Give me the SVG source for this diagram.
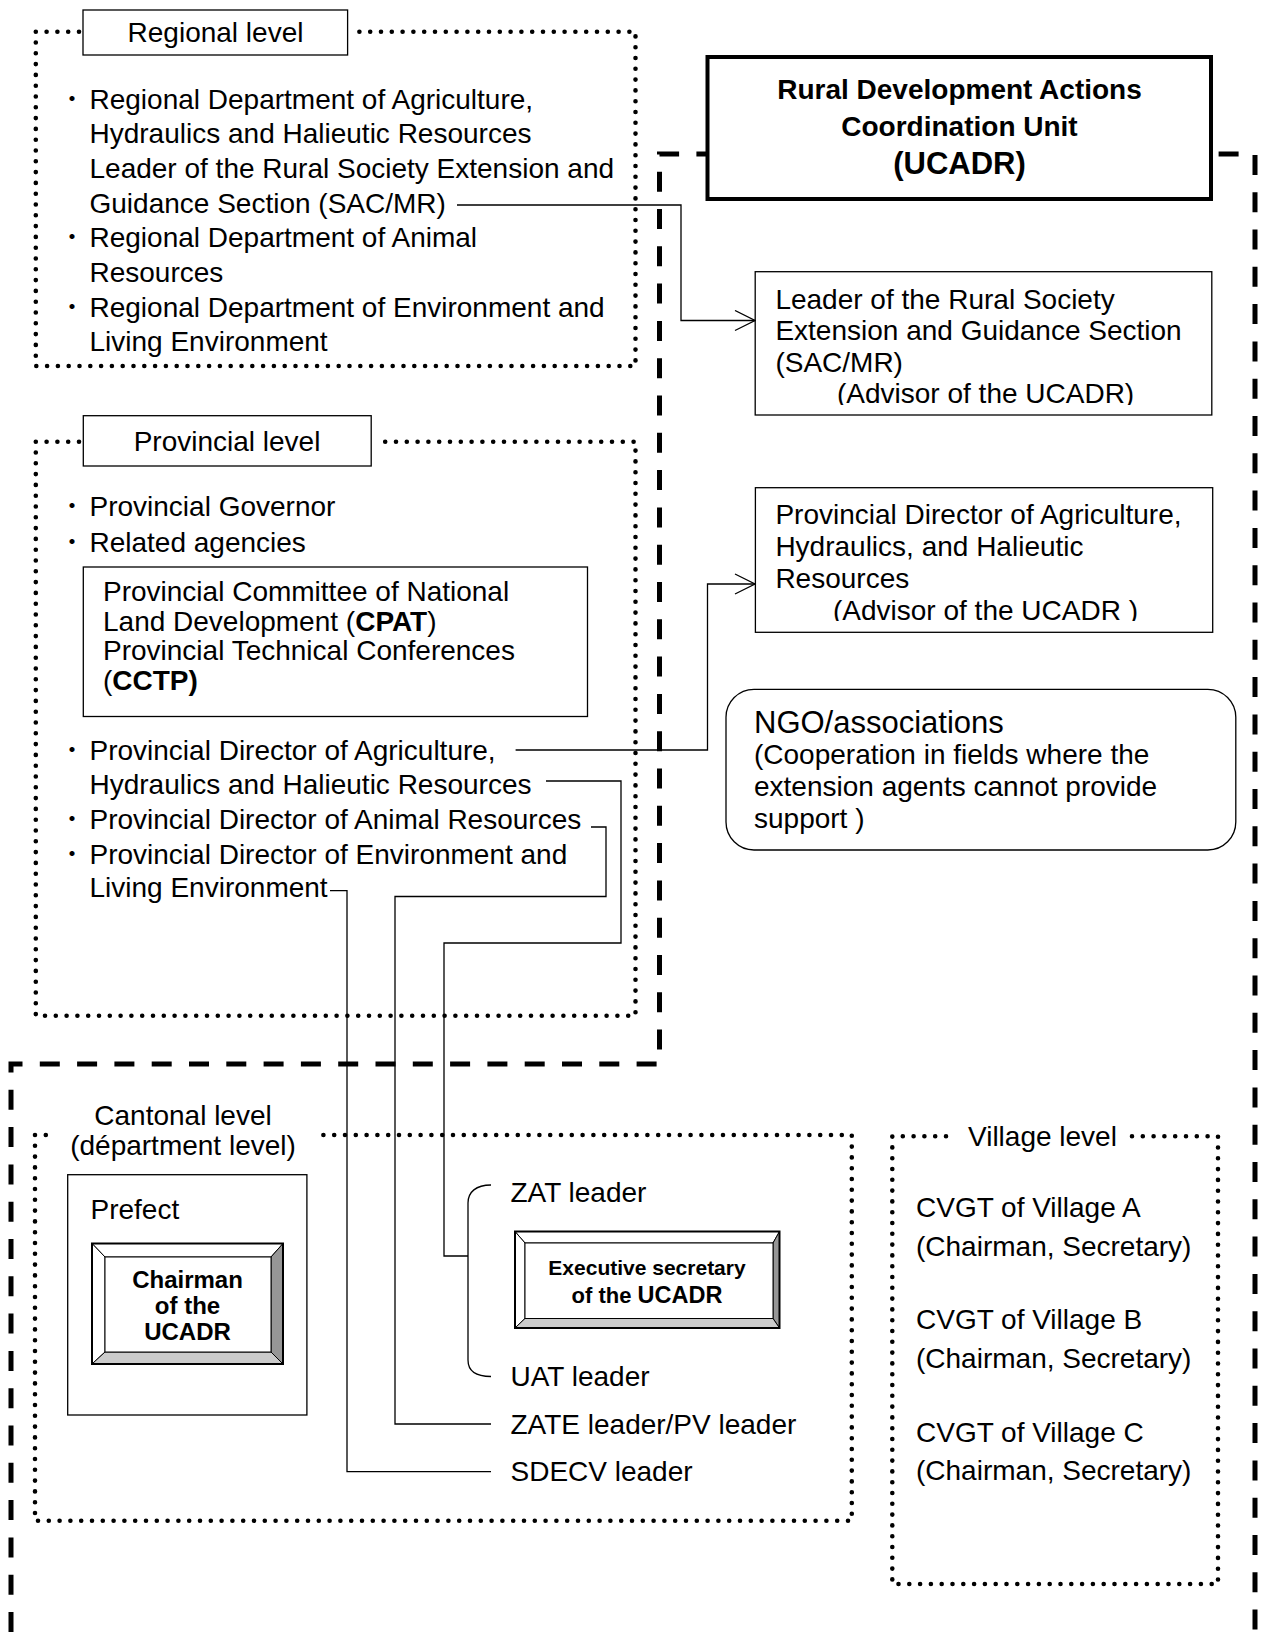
<svg xmlns="http://www.w3.org/2000/svg" width="1262" height="1632" viewBox="0 0 1262 1632">
  <style>
    .t { font-family: "Liberation Sans", Arial, sans-serif; font-size: 28px; fill: #000; }
    .b { font-weight: bold; }
    .bul { font-family: "Noto Sans CJK JP", "Liberation Sans", sans-serif; font-size: 24px; fill: #000; text-anchor: middle; }
    .mid { text-anchor: middle; }
    .box { fill: #fff; stroke: #000; stroke-width: 1.3; }
    .dot { fill: none; stroke: #000; stroke-width: 4.6; stroke-linecap: round; stroke-dasharray: 0 10.8; }
    .dash { fill: none; stroke: #000; stroke-width: 5; stroke-dasharray: 20 17.3; }
    .link { fill: none; stroke: #000; stroke-width: 1.3; }
    .bev { stroke: #000; stroke-width: 1; stroke-linejoin: miter; }
  </style>
  <defs>
    <marker id="openArrow" viewBox="0 0 22 22" refX="21" refY="11" markerWidth="22" markerHeight="22" markerUnits="userSpaceOnUse" orient="auto">
      <path d="M1,1 L21,11 L1,21" fill="none" stroke="#000" stroke-width="1.3"/>
    </marker>
    <clipPath id="clipAdv1"><rect x="755" y="272" width="457" height="133"/></clipPath>
    <clipPath id="clipAdv2"><rect x="755" y="488" width="457" height="133"/></clipPath>
  </defs>

  <rect width="1262" height="1632" fill="#fff"/>

  <!-- outer dashed frame of the coordination unit -->
  <g id="ucadr-frame">
    <path class="dash" d="M11,1632 V1064 H659.5 V154 H1255 V1632"/>
  </g>

  <!-- level boundaries (dotted) -->
  <g id="levels">
    <path class="dot" d="M79,31.7 H35.8 V366 H635.5 V31.7 H351"/>
    <path class="dot" d="M79,441.7 H35.8 V1015.7 H635.5 V441.7 H375"/>
    <path class="dot" d="M45.8,1135 H35 V1520.8 H851.8 V1135 H313.5"/>
    <path class="dot" d="M946,1136.3 H892.3 V1584 H1218 V1136.3 H1131"/>
  </g>

  <!-- Regional level -->
  <g id="regional">
    <rect class="box" x="83" y="10" width="264.6" height="45"/>
    <text class="t mid" x="215.5" y="42">Regional level</text>
    <text class="bul" x="72" y="106.5">・</text>
    <text class="t" x="89.5" y="108.5">Regional Department of Agriculture,</text>
    <text class="t" x="89.5" y="143.2">Hydraulics and Halieutic Resources</text>
    <text class="t" x="89.5" y="177.9">Leader of the Rural Society Extension and</text>
    <text class="t" x="89.5" y="212.6">Guidance Section (SAC/MR)</text>
    <text class="bul" x="72" y="245.3">・</text>
    <text class="t" x="89.5" y="247.3">Regional Department of Animal</text>
    <text class="t" x="89.5" y="282">Resources</text>
    <text class="bul" x="72" y="314.7">・</text>
    <text class="t" x="89.5" y="316.7">Regional Department of Environment and</text>
    <text class="t" x="89.5" y="351.4">Living Environment</text>
  </g>

  <!-- Provincial level -->
  <g id="provincial">
    <rect class="box" x="83.3" y="415.7" width="287.9" height="50.3"/>
    <text class="t mid" x="227" y="450.5">Provincial level</text>
    <text class="bul" x="72" y="514">・</text>
    <text class="t" x="89.5" y="516">Provincial Governor</text>
    <text class="bul" x="72" y="549.5">・</text>
    <text class="t" x="89.5" y="551.5">Related agencies</text>
    <text class="bul" x="72" y="758">・</text>
    <text class="t" x="89.5" y="760">Provincial Director of Agriculture,</text>
    <text class="t" x="89.5" y="793.5">Hydraulics and Halieutic Resources</text>
    <text class="bul" x="72" y="826.5">・</text>
    <text class="t" x="89.5" y="828.5">Provincial Director of Animal Resources</text>
    <text class="bul" x="72" y="861.5">・</text>
    <text class="t" x="89.5" y="863.5">Provincial Director of Environment and</text>
    <text class="t" x="89.5" y="897">Living Environment</text>
  </g>

  <g id="cpat-cctp">
    <rect class="box" x="83.3" y="567" width="504.2" height="149.5"/>
    <text class="t" x="103" y="601">Provincial Committee of National</text>
    <text class="t" x="103" y="631">Land Development (<tspan class="b">CPAT</tspan>)</text>
    <text class="t" x="103" y="660.3">Provincial Technical Conferences</text>
    <text class="t" x="103" y="690.3">(<tspan class="b">CCTP)</tspan></text>
  </g>

  <!-- Coordination unit -->
  <g id="ucadr">
    <rect x="707.5" y="57" width="503.5" height="142" fill="#fff" stroke="#000" stroke-width="4"/>
    <text class="t b mid" x="959.5" y="98.5">Rural Development Actions</text>
    <text class="t b mid" x="959.5" y="136">Coordination Unit</text>
    <text class="t b mid" x="959.5" y="174" style="font-size:31px">(UCADR)</text>
  </g>

  <g id="advisor-sacmr">
    <rect class="box" x="755.2" y="271.7" width="456.6" height="143.3"/>
    <g clip-path="url(#clipAdv1)">
      <text class="t" x="775.4" y="308.5">Leader of the Rural Society</text>
      <text class="t" x="775.4" y="340">Extension and Guidance Section</text>
      <text class="t" x="775.4" y="371.7">(SAC/MR)</text>
      <text class="t" x="837" y="403.4">(Advisor of the UCADR)</text>
    </g>
  </g>

  <g id="advisor-dpaahrh">
    <rect class="box" x="755.4" y="487.7" width="457.3" height="144.6"/>
    <g clip-path="url(#clipAdv2)">
      <text class="t" x="775.4" y="523.5">Provincial Director of Agriculture,</text>
      <text class="t" x="775.4" y="555.5">Hydraulics, and Halieutic</text>
      <text class="t" x="775.4" y="587.5">Resources</text>
      <text class="t" x="833" y="619.5">(Advisor of the UCADR )</text>
    </g>
  </g>

  <g id="ngo">
    <rect class="box" x="726" y="689.3" width="509.8" height="160.7" rx="28" ry="28"/>
    <text class="t" x="754" y="732.5" style="font-size:31px">NGO/associations</text>
    <text class="t" x="754" y="764">(Cooperation in fields where the</text>
    <text class="t" x="754" y="796">extension agents cannot provide</text>
    <text class="t" x="754" y="828">support )</text>
  </g>

  <!-- Cantonal level -->
  <g id="cantonal">
    <text class="t mid" x="183" y="1125">Cantonal level</text>
    <text class="t mid" x="183" y="1154.5">(départment level)</text>
  </g>

  <g id="prefect">
    <rect class="box" x="67.7" y="1174.7" width="239.2" height="240.3"/>
    <text class="t" x="90.5" y="1218.8">Prefect</text>
  </g>

  <g id="chairman">
    <rect x="92" y="1243.5" width="191" height="120.5" fill="#fff"/>
    <polygon class="bev" fill="#fff" points="92,1243.5 283,1243.5 271,1257 105,1257"/>
    <polygon class="bev" fill="#fff" points="92,1243.5 105,1257 105,1352 92,1364"/>
    <polygon class="bev" fill="#969696" points="283,1243.5 283,1364 271,1352 271,1257"/>
    <polygon class="bev" fill="#cbcbcb" points="92,1364 105,1352 271,1352 283,1364"/>
    <rect x="105" y="1257" width="166" height="95" fill="#fff" stroke="#000" stroke-width="1"/>
    <rect x="92" y="1243.5" width="191" height="120.5" fill="none" stroke="#000" stroke-width="2"/>
    <text class="t b mid" x="187.5" y="1287.8" style="font-size:24px">Chairman</text>
    <text class="t b mid" x="187.5" y="1313.5" style="font-size:24px">of the</text>
    <text class="t b mid" x="187.5" y="1340" style="font-size:24px">UCADR</text>
  </g>

  <g id="executive-secretary">
    <rect x="515" y="1231.5" width="264.5" height="96.5" fill="#fff"/>
    <polygon class="bev" fill="#fff" points="515,1231.5 779.5,1231.5 773,1243 525,1243"/>
    <polygon class="bev" fill="#fff" points="515,1231.5 525,1243 525,1318.5 515,1328"/>
    <polygon class="bev" fill="#969696" points="779.5,1231.5 779.5,1328 773,1318.5 773,1243"/>
    <polygon class="bev" fill="#cbcbcb" points="515,1328 525,1318.5 773,1318.5 779.5,1328"/>
    <rect x="525" y="1243" width="248" height="75.5" fill="#fff" stroke="#000" stroke-width="1"/>
    <rect x="515" y="1231.5" width="264.5" height="96.5" fill="none" stroke="#000" stroke-width="2"/>
    <text class="t b mid" x="647" y="1275" style="font-size:21px">Executive secretary</text>
    <text class="t b mid" x="647" y="1303" style="font-size:22px">of the <tspan style="font-size:23.5px">UCADR</tspan></text>
  </g>

  <g id="cantonal-leaders">
    <text class="t" x="510.5" y="1202">ZAT leader</text>
    <text class="t" x="510.5" y="1386">UAT leader</text>
    <text class="t" x="510.5" y="1433.5">ZATE leader/PV leader</text>
    <text class="t" x="510.5" y="1481">SDECV leader</text>
  </g>

  <!-- Village level -->
  <g id="village">
    <text class="t" x="968" y="1145.5">Village level</text>
    <text class="t" x="916" y="1217">CVGT of Village A</text>
    <text class="t" x="916" y="1255.8">(Chairman, Secretary)</text>
    <text class="t" x="916" y="1328.5">CVGT of Village B</text>
    <text class="t" x="916" y="1367.5">(Chairman, Secretary)</text>
    <text class="t" x="916" y="1441.5">CVGT of Village C</text>
    <text class="t" x="916" y="1480">(Chairman, Secretary)</text>
  </g>

  <!-- connectors -->
  <g id="connectors">
    <path class="link" d="M457,205 H681 V320.5 H755" marker-end="url(#openArrow)"/>
    <path class="link" d="M515.6,750 H707.5 V584 H755" marker-end="url(#openArrow)"/>
    <path class="link" d="M546,781 H621 V943 H444 V1256 H468"/>
    <path class="link" d="M491,1185 C476,1185 468,1192 468,1203 V1360 C468,1371 476,1376.5 491,1376.5"/>
    <path class="link" d="M591,827 H606 V896.5 H395 V1424 H491"/>
    <path class="link" d="M330,890.7 H347 V1471.6 H491"/>
  </g>
</svg>
